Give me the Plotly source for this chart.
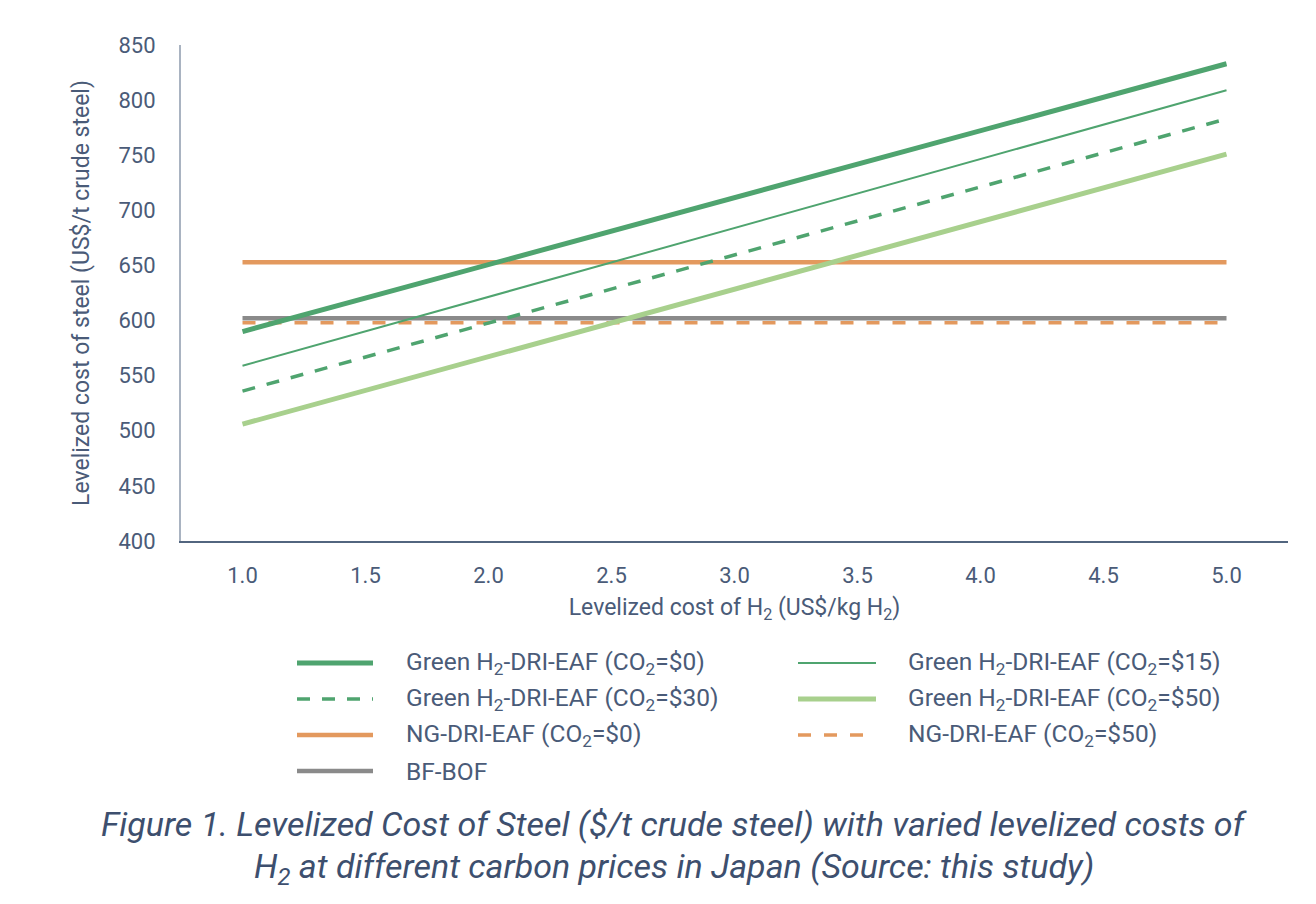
import plotly.graph_objects as go

# ---- data ----
h2_cost = [1.0, 5.0]
tick_vals = [1.0, 1.5, 2.0, 2.5, 3.0, 3.5, 4.0, 4.5, 5.0]
tick_text = ["1.0", "1.5", "2.0", "2.5", "3.0", "3.5", "4.0", "4.5", "5.0"]

green_co2_0 = [590, 833]
green_co2_15 = [559, 809]
green_co2_30 = [536, 783]
green_co2_50 = [506, 751]
ng_co2_0 = [653, 653]
ng_co2_50 = [598, 598]
bf_bof = [602, 602]

series_names = [
    "Green H<sub>2</sub>-DRI-EAF (CO<sub>2</sub>=$0)",
    "Green H<sub>2</sub>-DRI-EAF (CO<sub>2</sub>=$15)",
    "Green H<sub>2</sub>-DRI-EAF (CO<sub>2</sub>=$30)",
    "Green H<sub>2</sub>-DRI-EAF (CO<sub>2</sub>=$50)",
    "NG-DRI-EAF (CO<sub>2</sub>=$0)",
    "NG-DRI-EAF (CO<sub>2</sub>=$50)",
    "BF-BOF",
]
series_values = [green_co2_0, green_co2_15, green_co2_30, green_co2_50,
                 ng_co2_0, ng_co2_50, bf_bof]

# ---- styles ----
GREEN = "#4FA46F"
LGREEN = "#A8D08D"
ORANGE = "#E3995E"
GRAY = "#8A8A8A"
TEXT = "#4A5B78"
styles = [
    dict(color=GREEN, width=5, dash="solid"),
    dict(color=GREEN, width=2, dash="solid"),
    dict(color=GREEN, width=3.5, dash="13px,12px"),
    dict(color=LGREEN, width=5, dash="solid"),
    dict(color=ORANGE, width=4.5, dash="solid"),
    dict(color=ORANGE, width=3.5, dash="13px,13px"),
    dict(color=GRAY, width=4.5, dash="solid"),
]
draw_order = [4, 5, 6, 3, 2, 1, 0]

fig = go.Figure()
for i in draw_order:
    fig.add_trace(go.Scatter(
        x=h2_cost, y=series_values[i], mode="lines",
        name=series_names[i], line=styles[i], showlegend=False,
    ))

# ---- layout geometry (reference pixels; page body has an 8px offset) ----
OFF = 8
W, H = 1316 - 2 * OFF, 904 - 2 * OFF
L, R, T, B = 181, 1288, 45, 541


def px_x(px):
    return (px - L) / (R - L)


def px_y(py):
    return (B - py) / (B - T)


tick_font = dict(family="Roboto", size=22, color=TEXT)
label_font = dict(family="Roboto", size=23, color=TEXT)
legend_font = dict(family="Roboto", size=24.5, color=TEXT)

fig.update_layout(
    width=W, height=H,
    margin=dict(l=L - OFF, r=(W + OFF) - R, t=T - OFF, b=(H + OFF) - B, pad=0),
    plot_bgcolor="white", paper_bgcolor="white",
    font=dict(family="Roboto", size=20, color=TEXT),
    showlegend=False,
    xaxis=dict(
        range=[0.75, 5.25], tickmode="array", tickvals=tick_vals, ticktext=tick_text,
        showgrid=False, zeroline=False, showline=True, linecolor="#52657F", linewidth=1.5,
        ticks="", ticklabelstandoff=14, tickfont=tick_font,
        title=dict(text="Levelized cost of H<sub>2</sub> (US$/kg H<sub>2</sub>)",
                   font=label_font, standoff=12),
        fixedrange=True,
    ),
    yaxis=dict(
        range=[400, 850], dtick=50, tick0=400,
        showgrid=False, zeroline=False, showline=True, linecolor="#A9B3C1", linewidth=2,
        ticks="", ticklabelstandoff=19, tickfont=tick_font,
        title=dict(text="Levelized cost of steel (US$/t crude steel)",
                   font=label_font, standoff=22),
        fixedrange=True,
    ),
)

# ---- custom legend (two columns, long line samples) ----
legend_rows_px = [663, 699, 735, 771]
legend_cols = [(297, 373, 404), (798, 876, 906)]
for k in range(len(series_names)):
    row, col = divmod(k, 2)
    x0, x1, xt = legend_cols[col]
    yy = px_y(legend_rows_px[row])
    st = styles[k]
    fig.add_shape(type="line", xref="paper", yref="paper",
                  x0=px_x(x0), x1=px_x(x1), y0=yy, y1=yy,
                  line=dict(color=st["color"], width=st["width"], dash=st["dash"]))
    fig.add_annotation(xref="paper", yref="paper", x=px_x(xt), y=yy,
                       xanchor="left", yanchor="middle", showarrow=False,
                       text=series_names[k], font=legend_font)

# ---- figure caption ----
caption_font = dict(family="Roboto", size=34, color="#3D4F6E")
fig.add_annotation(xref="paper", yref="paper", x=px_x(674), y=px_y(824),
                   xanchor="center", yanchor="middle", showarrow=False,
                   text="<i>Figure 1. Levelized Cost of Steel ($/t crude steel) "
                        "with varied levelized costs of</i>",
                   font=caption_font)
fig.add_annotation(xref="paper", yref="paper", x=px_x(674), y=px_y(868),
                   xanchor="center", yanchor="middle", showarrow=False,
                   text="<i>H<sub>2</sub> at different carbon prices in Japan "
                        "(Source: this study)</i>",
                   font=caption_font)

fig.write_html("out.html")
